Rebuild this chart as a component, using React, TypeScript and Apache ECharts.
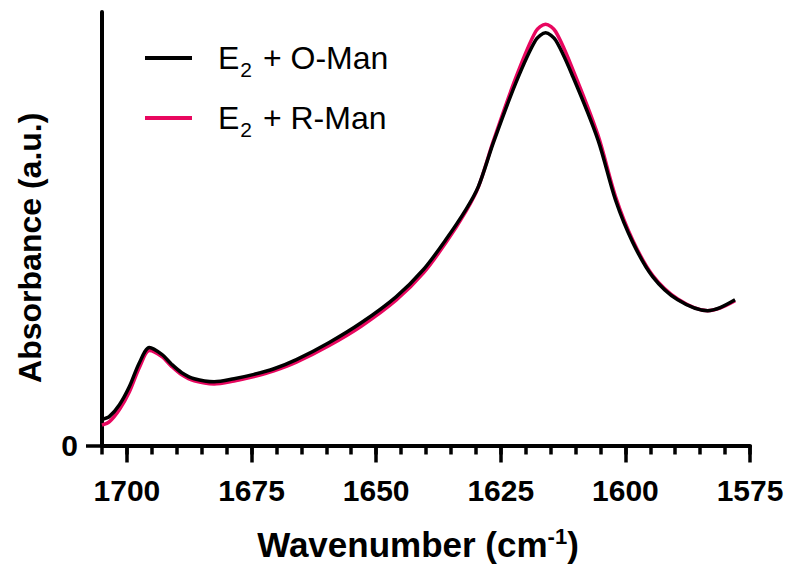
import React, { useEffect, useRef } from "react";
import * as echarts from "echarts";

const wavenumbers = [1705, 1703.5, 1701.5, 1699.5, 1697.5, 1695.5, 1693, 1691, 1689, 1686.5, 1682.5, 1678.5, 1674.5, 1670.5, 1666, 1659.5, 1653, 1646, 1640.5, 1636, 1632, 1629.5, 1626.5, 1622, 1618, 1616, 1614, 1610.5, 1605.5, 1602, 1598.5, 1594.5, 1589.5, 1583.5, 1581, 1578];
const oManValues = [0.060, 0.067, 0.094, 0.136, 0.191, 0.226, 0.210, 0.187, 0.168, 0.154, 0.147, 0.154, 0.164, 0.177, 0.198, 0.237, 0.283, 0.343, 0.406, 0.475, 0.544, 0.597, 0.698, 0.836, 0.935, 0.952, 0.935, 0.850, 0.705, 0.567, 0.468, 0.389, 0.336, 0.311, 0.318, 0.336];
const rManValues = [0.047, 0.055, 0.083, 0.124, 0.180, 0.219, 0.205, 0.182, 0.163, 0.149, 0.142, 0.149, 0.159, 0.172, 0.192, 0.230, 0.275, 0.335, 0.398, 0.468, 0.540, 0.596, 0.702, 0.848, 0.955, 0.972, 0.955, 0.866, 0.716, 0.575, 0.473, 0.392, 0.338, 0.311, 0.317, 0.334];
const xTickLabels = [1700, 1675, 1650, 1625, 1600, 1575];
const seriesNames = ["E2 + O-Man", "E2 + R-Man"];
const seriesColors = ["#000000", "#E8075F"];

const FONT = "'Liberation Sans', Arial, Helvetica, sans-serif";

export default function App() {
  const ref = useRef<HTMLDivElement>(null);
  useEffect(() => {
    if (!ref.current) return;
    const chart = echarts.init(ref.current, undefined, { renderer: "svg" });
    const toPairs = (vals: number[]) => wavenumbers.map((w, i) => [w, vals[i]]);
    chart.setOption({
      animation: false,
      backgroundColor: "#ffffff",
      grid: { left: 102, right: 38, top: 12, bottom: 121, containLabel: false },
      legend: {
        orient: "vertical",
        left: 145,
        top: 42,
        padding: 0,
        itemGap: 22,
        itemWidth: 47,
        itemHeight: 4,
        icon: "rect",
        data: seriesNames,
        formatter: (name: string) => {
          const rest = name.replace("E2", "");
          return `{sp|}{t|E}{sub|2}{t|${rest}}`;
        },
        textStyle: {
          color: "#000",
          fontFamily: FONT,
          rich: {
            sp: { width: 21, lineHeight: 44 },
            t: { fontSize: 32, fontFamily: FONT, color: "#000", lineHeight: 44 },
            sub: { fontSize: 21, fontFamily: FONT, color: "#000", lineHeight: 12, verticalAlign: "bottom", padding: [0, 2, 0, 1] },
          },
        },
      },
      xAxis: [
        {
          type: "value",
          inverse: true,
          min: 1575,
          max: 1705,
          interval: 5,
          position: "bottom",
          axisLine: { show: true, onZero: false, lineStyle: { color: "#000", width: 4 } },
          axisTick: { show: true, length: 9, lineStyle: { color: "#000", width: 3.5 } },
          axisLabel: { show: false },
          splitLine: { show: false },
          name: "{t|Wavenumber (cm}{sup|-1}{t|)}",
          nameLocation: "middle",
          nameGap: 80,
          nameTextStyle: {
            padding: [0, 16, 0, 0],
            rich: {
              t: { fontSize: 35, fontWeight: "bold", fontFamily: FONT, color: "#000", lineHeight: 38 },
              sup: { fontSize: 22, fontWeight: "bold", fontFamily: FONT, color: "#000", lineHeight: 22, verticalAlign: "top" },
            },
          },
        },
        {
          type: "value",
          inverse: true,
          min: 1575,
          max: 1705,
          interval: 25,
          position: "bottom",
          axisLine: { show: false, onZero: false },
          axisTick: { show: true, length: 17, customValues: xTickLabels, lineStyle: { color: "#000", width: 3.5 } },
          axisLabel: {
            show: true,
            customValues: xTickLabels,
            formatter: (v: number) => String(v),
            margin: 30,
            fontSize: 30,
            fontWeight: "bold",
            fontFamily: FONT,
            color: "#000",
          },
          splitLine: { show: false },
        },
      ],
      yAxis: {
        type: "value",
        min: 0,
        max: 1,
        interval: 1,
        axisLine: { show: true, onZero: false, lineStyle: { color: "#000", width: 4 } },
        axisTick: { show: true, length: 16, customValues: [0], lineStyle: { color: "#000", width: 3.5 } },
        axisLabel: {
          show: true,
          customValues: [0],
          formatter: (v: number) => String(v),
          margin: 24,
          fontSize: 30,
          fontWeight: "bold",
          fontFamily: FONT,
          color: "#000",
        },
        splitLine: { show: false },
        name: "Absorbance (a.u.)",
        nameLocation: "middle",
        nameGap: 56,
        nameTextStyle: { fontSize: 32, fontWeight: "bold", fontFamily: FONT, color: "#000", padding: [0, 38, 0, 0] },
      },
      series: [
        {
          name: seriesNames[1],
          type: "line",
          xAxisIndex: 0,
          data: toPairs(rManValues),
          showSymbol: false,
          symbol: "none",
          smooth: 0.3,
          lineStyle: { color: seriesColors[1], width: 3.5 },
          itemStyle: { color: seriesColors[1] },
          z: 2,
        },
        {
          name: seriesNames[0],
          type: "line",
          xAxisIndex: 0,
          data: toPairs(oManValues),
          showSymbol: false,
          symbol: "none",
          smooth: 0.3,
          lineStyle: { color: seriesColors[0], width: 3.5 },
          itemStyle: { color: seriesColors[0] },
          z: 3,
        },
      ],
    });
    return () => chart.dispose();
  }, []);
  return (
    <div
      ref={ref}
      style={{ position: "fixed", left: 0, top: 0, width: 788, height: 567, background: "#fff" }}
    />
  );
}
